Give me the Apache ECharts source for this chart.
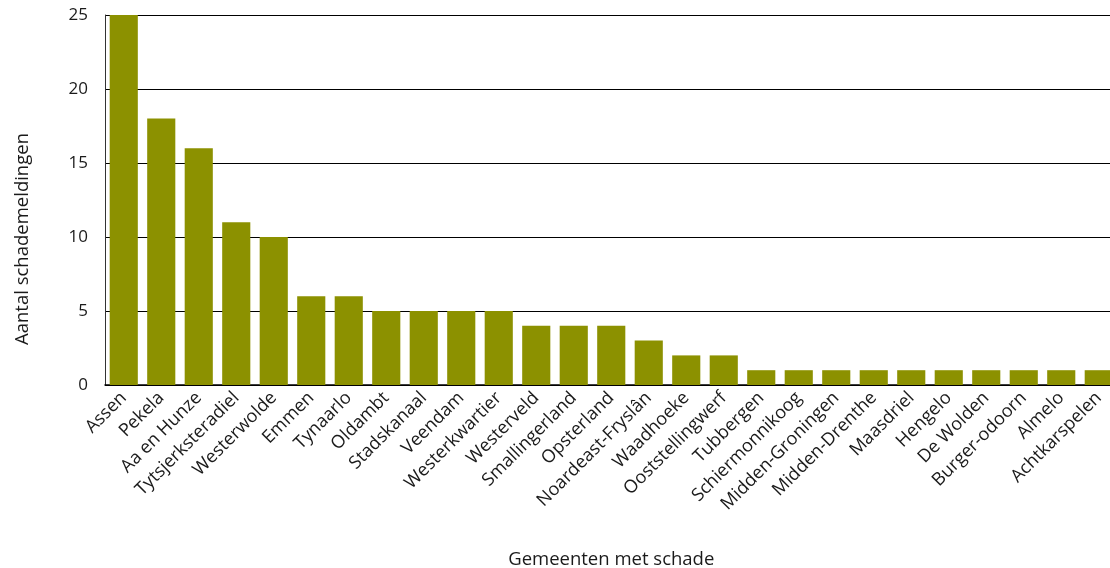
<!DOCTYPE html>
<html><head><meta charset="utf-8">
<script src="https://cdn.jsdelivr.net/npm/echarts@6/dist/echarts.min.js"></script>
<style>html,body{margin:0;padding:0;background:#fff}#c{width:1110px;height:568px}</style>
</head><body><div id="c"></div>
<script>
const categories = ["Assen","Pekela","Aa en Hunze","Tytsjerksteradiel","Westerwolde","Emmen","Tynaarlo","Oldambt","Stadskanaal","Veendam","Westerkwartier","Westerveld","Smallingerland","Opsterland","Noardeast-Fryslân","Waadhoeke","Ooststellingwerf","Tubbergen","Schiermonnikoog","Midden-Groningen","Midden-Drenthe","Maasdriel","Hengelo","De Wolden","Burger-odoorn","Almelo","Achtkarspelen"];
const values = [25,18,16,11,10,6,6,5,5,5,5,4,4,4,3,2,2,1,1,1,1,1,1,1,1,1,1];
const yTicks = [0,5,10,15,20,25];
const FONT = "Open Sans";
const chart = echarts.init(document.getElementById('c'), null, {renderer:'canvas'});
chart.setOption({
  animation:false,
  grid:{left:105, width:1012.5, top:15, height:370, containLabel:false, outerBoundsMode:'none'},
  xAxis:{
    type:'category', data:categories,
    name:'Gemeenten met schade', nameLocation:'middle', nameGap:165,
    nameTextStyle:{fontFamily:FONT, fontSize:18.5, color:'#1a1a1a'},
    axisLine:{lineStyle:{color:'#000', width:1.5}},
    axisTick:{show:false},
    axisLabel:{rotate:45, interval:0, margin:10, fontFamily:FONT, fontSize:18, color:'#1a1a1a'}
  },
  yAxis:{
    type:'value', min:0, max:25, interval:5,
    name:'Aantal schademeldingen', nameLocation:'middle', nameGap:73, nameRotate:90,
    nameTextStyle:{fontFamily:FONT, fontSize:18.5, color:'#1a1a1a', padding:[0,78,0,0]},
    axisLine:{show:true, lineStyle:{color:'#333', width:1}},
    axisTick:{show:false},
    axisLabel:{margin:17, fontFamily:FONT, fontSize:17, color:'#1a1a1a',
      formatter:v=>yTicks.includes(v)?String(v):''},
    splitLine:{lineStyle:{color:'#000', width:1}}
  },
  series:[{type:'bar', data:values, barCategoryGap:'25%', itemStyle:{color:'#8c9100'}}]
});
</script></body></html>
